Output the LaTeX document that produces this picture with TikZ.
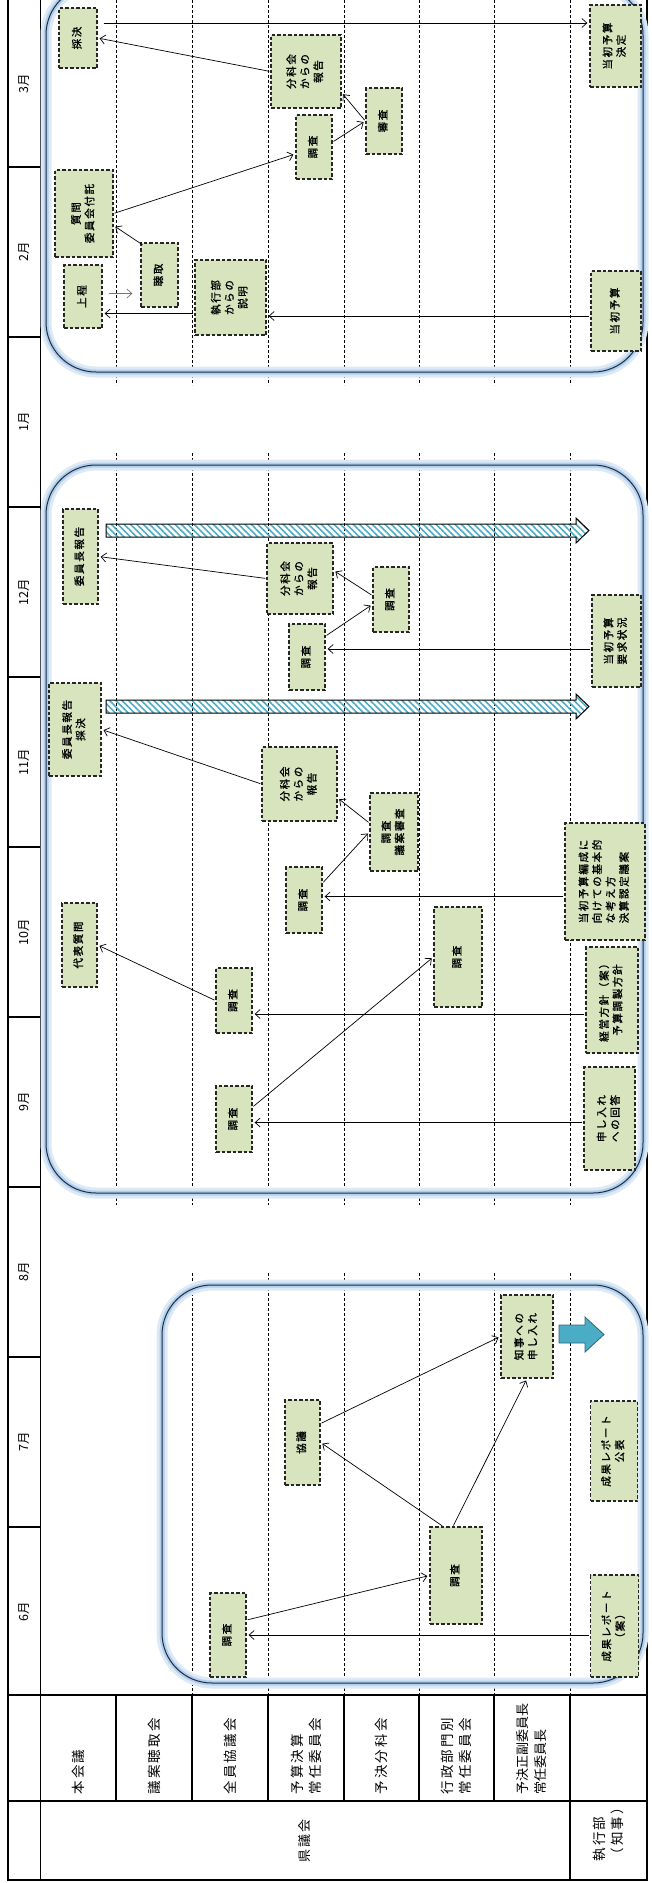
\documentclass[tikz,border=0pt]{standalone}
\usepackage{fontspec}
\usepackage{graphicx}
\setmainfont{Noto Sans CJK JP}
\newfontfamily\boxfont[LetterSpace=16,FakeBold=1.2]{Noto Sans CJK JP}
\newfontfamily\hdrfont[LetterSpace=16]{Noto Sans CJK JP}
\usetikzlibrary{arrows.meta,calc,patterns.meta}
\definecolor{boxgreen}{RGB}{215,228,189}
\definecolor{glowblue}{RGB}{157,195,230}
\definecolor{hatchcyan}{RGB}{75,172,198}
\definecolor{navy}{RGB}{31,42,68}
\newcommand{\vt}[1]{\rotatebox{90}{\begin{tabular}{@{}c@{}}#1\end{tabular}}}
\newcommand{\vtl}[1]{\rotatebox{90}{\begin{tabular}{@{}l@{}}#1\end{tabular}}}

\begin{document}
\begin{tikzpicture}[x=1pt,y=-1pt,
  lane/.style={dash pattern=on 3pt off 2pt,line width=0.6pt},
  stagebox/.style={fill=boxgreen,draw=black!85,line width=1.3pt,dash pattern=on 3.5pt off 2pt,
    inner sep=0pt,font=\boxfont\fontsize{10.5}{13.5}\selectfont},
  arr/.style={-{Straight Barb[length=5pt,width=9pt]},line width=0.7pt,shorten >=2pt,shorten <=1pt},
  hatch/.style={draw=black,line width=1pt,pattern={Lines[angle=-45,distance=4.5pt,line width=1.6pt]},pattern color=hatchcyan},
  hdr/.style={rotate=90,anchor=west,align=left,font=\hdrfont\fontsize{13.5}{18}\selectfont},
  month/.style={rotate=90,font=\fontsize{12.5}{14}\selectfont}]
  \useasboundingbox (0,0) rectangle (652,1883);
  % lanes: dashed lines per period
  \foreach \x in {116,192,268,344,419,494,570} {
    \draw[lane] (\x,0) -- (\x,385);
    \draw[lane] (\x,453) -- (\x,1205);
  }
  \foreach \x in {192,268,344,419,494,570} { \draw[lane] (\x,1273) -- (\x,1695); }
  % frame and month column
  \draw[line width=1.3pt] (8,0) -- (8,1880) -- (647,1880) -- (647,0);
  \draw[line width=0.8pt] (40,0) -- (40,1880);
  \foreach \y in {167,337,507,677,847,1017,1187,1357,1527} { \draw[line width=1.2pt] (8,\y) -- (40,\y); }
  \draw[line width=1.3pt] (8,1695) -- (647,1695);
  \draw[line width=1.3pt] (8,1801) -- (647,1801);
  \foreach \x in {116,192,268,344,419,494} { \draw[line width=1.3pt] (\x,1695) -- (\x,1801); }
  \draw[line width=1.3pt] (570,1695) -- (570,1880);
  % periods: rounded frames with glow
  \foreach \xa/\ya/\xb/\yb in {46/-15/643/372,46/465/643/1193,162/1285/643/1683} {
    \draw[glowblue!35,line width=11pt,rounded corners=50pt] (\xa,\ya) rectangle (\xb,\yb);
    \draw[glowblue!80,line width=5pt,rounded corners=50pt] (\xa,\ya) rectangle (\xb,\yb);
    \draw[navy,line width=1pt,rounded corners=50pt] (\xa,\ya) rectangle (\xb,\yb);
  }
  % hatched arrows to the executive
  \foreach \y in {530.5,706.5} {
    \draw[hatch] (106,\y-6.5) -- (576,\y-6.5) -- (576,\y-12.5) -- (589,\y) -- (576,\y+12.5)
      -- (576,\y+6.5) -- (106,\y+6.5) -- cycle;
  }
  \draw[fill=hatchcyan,draw=hatchcyan!60!black,line width=0.8pt] (559,1325) -- (585,1325) -- (585,1317)
    -- (604,1334.5) -- (585,1352) -- (585,1343) -- (559,1343) -- cycle;

  % February - March
  \node[stagebox,minimum width=38,minimum height=60] (saiketsuM) at (78,38) {\vt{採決}};
  \node[stagebox,minimum width=51,minimum height=82] (kettei) at (615.5,46) {\vt{当初予算\\決定}};
  \node[stagebox,minimum width=70,minimum height=73] (houkokuM) at (306,71.5) {\vt{分科会\\からの\\報告}};
  \node[stagebox,minimum width=36,minimum height=66] (shinsaM) at (384,121) {\vt{審査}};
  \node[stagebox,minimum width=36,minimum height=64] (chosaM) at (314,147) {\vt{調査}};
  \node[stagebox,minimum width=58,minimum height=87] (fuitaku) at (84,213.5) {\vt{質問\\委員会付託}};
  \node[stagebox,minimum width=37,minimum height=64] (choshu) at (159.5,275) {\vt{聴取}};
  \node[stagebox,minimum width=38,minimum height=63] (jotei) at (83,296.5) {\vt{上程}};
  \node[stagebox,minimum width=71,minimum height=75] (setsumei) at (230.5,297.5) {\vt{執行部\\からの\\説明}};
  \node[stagebox,minimum width=50,minimum height=80] (tosho) at (616,311) {\vt{当初予算}};
  \draw[arr,shorten <=6pt] ($(saiketsuM.east)+(0,15pt)$) -- ($(saiketsuM.east -| kettei.west)+(0,15pt)$);
  \draw[arr] (houkokuM.west) -- (saiketsuM.east);
  \draw[arr] (shinsaM.west) -- ($(houkokuM.south east)+(0,16pt)$);
  \draw[arr] ($(chosaM.east)+(0,5pt)$) -- (shinsaM.west);
  \draw[arr] (fuitaku.east) -- ($(chosaM.west)+(0,-7pt)$);
  \draw[arr] ($(choshu.north west)+(3pt,-3pt)$) -- ($(fuitaku.east)+(0,-12pt)$);
  \draw[arr,black!55] ($(jotei.east)+(5pt,3pt)$) -- ($(jotei.east -| choshu.west)+(-6pt,3pt)$);
  \draw[arr] ($(setsumei.west)+(0,-16pt)$) -- ($(setsumei.west -| jotei.east)+(0,-16pt)$);
  \draw[arr] ($(tosho.west)+(0,-5pt)$) -- ($(tosho.west -| setsumei.east)+(0,-5pt)$);

  % September - December
  \node[stagebox,minimum width=35,minimum height=95] (iinchoD) at (80.5,556.5) {\vt{委員長報告}};
  \node[stagebox,minimum width=66,minimum height=71] (houkokuD) at (300,578.5) {\vt{分科会\\からの\\報告}};
  \node[stagebox,minimum width=36,minimum height=65] (chosaD2) at (391,599.5) {\vt{調査}};
  \node[stagebox,minimum width=36,minimum height=66] (chosaD) at (307,657) {\vt{調査}};
  \node[stagebox,minimum width=49,minimum height=92] (yokyu) at (616.5,641) {\vt{当初予算\\要求状況}};
  \node[stagebox,minimum width=52,minimum height=93] (iinchoN) at (75,729.5) {\vt{委員長報告\\採決}};
  \node[stagebox,minimum width=75,minimum height=74] (houkokuN) at (299.5,784) {\vt{分科会\\からの\\報告}};
  \node[stagebox,minimum width=48,minimum height=78] (shingi) at (394,832) {\vt{調査\\議案審査}};
  \node[stagebox,minimum width=36,minimum height=66] (chosaN) at (304,900) {\vt{調査}};
  \node[stagebox,minimum width=80,minimum height=117] (kihon) at (605,881.5) {\vtl{当初予算編成に\\向けての基本的\\な考え方\\決算認定議案}};
  \node[stagebox,minimum width=35,minimum height=84] (daihyo) at (79.5,945) {\vt{代表質問}};
  \node[stagebox,minimum width=48,minimum height=100] (gyosei) at (458,957) {\vt{調査}};
  \node[stagebox,minimum width=36,minimum height=65] (chosaO) at (234,1000.5) {\vt{調査}};
  \node[stagebox,minimum width=52,minimum height=106] (keiei) at (612,1000) {\vt{経営方針（案）\\予算調製方針}};
  \node[stagebox,minimum width=36,minimum height=66] (chosaS) at (234,1119) {\vt{調査}};
  \node[stagebox,minimum width=51,minimum height=103] (kaito) at (609.5,1118.5) {\vt{申し入れ\\への回答}};
  \draw[arr] (houkokuD.west) -- (iinchoD.east);
  \draw[arr] ($(chosaD2.west)+(0,4pt)$) -- ($(houkokuD.east)+(0,8pt)$);
  \draw[arr] ($(chosaD.east)+(0,21pt)$) -- ($(chosaD2.west)+(0,-5pt)$);
  \draw[arr] ($(yokyu.west)+(0,-8pt)$) -- ($(yokyu.west -| chosaD.east)+(0,-8pt)$);
  \draw[arr] (houkokuN.west) -- (iinchoN.east);
  \draw[arr] ($(shingi.west)+(0,9pt)$) -- ($(houkokuN.east)+(0,-14pt)$);
  \draw[arr] ($(chosaN.east)+(0,17pt)$) -- (shingi.west);
  \draw[arr] ($(kihon.west)+(0,-15pt)$) -- ($(kihon.west -| chosaN.east)+(0,-15pt)$);
  \draw[arr] (chosaO.west) -- (daihyo.east);
  \draw[arr] ($(keiei.west)+(0,-14pt)$) -- ($(keiei.west -| chosaO.east)+(0,-14pt)$);
  \draw[arr] ($(chosaS.east)+(0,12pt)$) -- (gyosei.west);
  \draw[arr] ($(kaito.west)+(0,-4pt)$) -- ($(kaito.west -| chosaS.east)+(0,-4pt)$);

  % June - July
  \node[stagebox,minimum width=52,minimum height=83] (moshiire) at (527,1336.5) {\vt{知事への\\申し入れ}};
  \node[stagebox,minimum width=35,minimum height=85] (kyogi) at (302.5,1442.5) {\vt{協議}};
  \node[stagebox,minimum width=52,minimum height=97] (gyoseiJ) at (456,1575.5) {\vt{調査}};
  \node[stagebox,minimum width=47,minimum height=100] (seika) at (614,1451) {\vt{成果レポート\\公表}};
  \node[stagebox,minimum width=36,minimum height=84] (zeninJ) at (228,1635) {\vt{調査}};
  \node[stagebox,minimum width=48,minimum height=102] (seikaAn) at (614.5,1626) {\vt{成果レポート\\（案）}};
  \draw[arr] ($(kyogi.east)+(0,19pt)$) -- (moshiire.west);
  \draw[arr] ($(gyoseiJ.north)+(-13pt,0)$) -- (kyogi.east);
  \draw[arr] ($(gyoseiJ.north)+(-3pt,0)$) -- (moshiire.south);
  \draw[arr] ($(zeninJ.east)+(0,15pt)$) -- (gyoseiJ.west);
  \draw[arr] ($(seikaAn.west)+(0,-9pt)$) -- ($(seikaAn.west -| zeninJ.east)+(0,-9pt)$);

  % months
  \node[month] (m3) at (24,83.5) {3月};
  \node[month] (m2) at (24,252) {2月};
  \node[month] (m1) at (24,422) {1月};
  \node[month] (m12) at (24,592) {12月};
  \node[month] (m11) at (24,762) {11月};
  \node[month] (m10) at (24,932) {10月};
  \node[month] (m9) at (24,1102) {9月};
  \node[month] (m8) at (24,1272) {8月};
  \node[month] (m7) at (24,1442) {7月};
  \node[month] (m6) at (24,1612) {6月};

  % header
  \node[hdr] (honkaigi) at (78,1798) {本会議};
  \node[hdr] (choshukai) at (154,1798) {議案聴取会};
  \node[hdr] (zenin) at (230,1798) {全員協議会};
  \node[hdr] (yokessan) at (306,1798) {予算決算\\常任委員会};
  \node[hdr] (bunkakai) at (381.5,1798) {予決分科会};
  \node[hdr] (bumon) at (456.5,1798) {行政部門別\\常任委員会};
  \node[hdr,font=\fontsize{13}{18}\selectfont] (seifuku) at (532,1798) {予決正副委員長\\常任委員長};
  \node[rotate=90,font=\hdrfont\fontsize{13}{18}\selectfont] (kengikai) at (305,1841) {県議会};
  \node[hdr] (shikkobu) at (608.5,1865) {執行部\\（知事）};
\end{tikzpicture}
\end{document}
